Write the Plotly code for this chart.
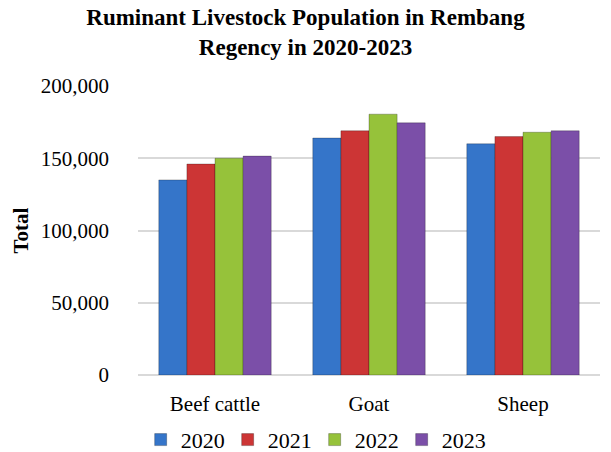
import plotly.graph_objects as go

categories = ["Beef cattle", "Goat", "Sheep"]
years = ["2020", "2021", "2022", "2023"]
v2020 = [135000, 164000, 160000]
v2021 = [146000, 169000, 165000]
v2022 = [150000, 180500, 168000]
v2023 = [151500, 174500, 169000]
series = [v2020, v2021, v2022, v2023]
colors = ["#3575C9", "#CC3535", "#96C23A", "#7B4FA8"]
tick_vals = [0, 50000, 100000, 150000, 200000]
tick_text = ["0", "50,000", "100,000", "150,000", "200,000"]

fig = go.Figure()
for name, vals, col in zip(years, series, colors):
    fig.add_trace(go.Bar(
        x=categories, y=vals, name=name,
        marker=dict(color=col, line=dict(color="rgba(0,0,0,0.25)", width=1)),
    ))

font_family = "Liberation Serif, Times New Roman, serif"
fig.update_layout(
    width=611, height=452,
    margin=dict(l=138, r=11, t=86, b=77, autoexpand=False),
    paper_bgcolor="white", plot_bgcolor="white",
    barmode="group", bargap=0.27, bargroupgap=0.0,
    font=dict(family=font_family, color="black", size=21),
    title=dict(
        text="<b>Ruminant Livestock Population in Rembang<br>Regency in 2020-2023</b>",
        x=0.5, xanchor="center", y=0.945, yanchor="top",
        font=dict(size=23, family=font_family),
    ),
    legend=dict(
        orientation="h", xref="container", x=0.515, xanchor="center",
        yref="container", y=0.027, yanchor="middle",
        font=dict(size=22, family=font_family),
        entrywidth=42, entrywidthmode="pixels", itemwidth=30,
        traceorder="normal",
    ),
    showlegend=True,
)
fig.update_yaxes(
    range=[0, 200000], tickvals=tick_vals, ticktext=tick_text,
    showgrid=True, gridcolor="#D9D9D9", gridwidth=1.5,
    zeroline=True, zerolinecolor="#D9D9D9", zerolinewidth=1.5,
    ticks="", ticklen=0, tickfont=dict(size=21), ticklabelstandoff=28,
    title=dict(text="<b>Total</b>", font=dict(size=21), standoff=6),
)
fig.update_xaxes(
    showgrid=False, showline=False, ticks="", tickfont=dict(size=21),
    ticklabelstandoff=14,
)

fig.write_html("out.html")
